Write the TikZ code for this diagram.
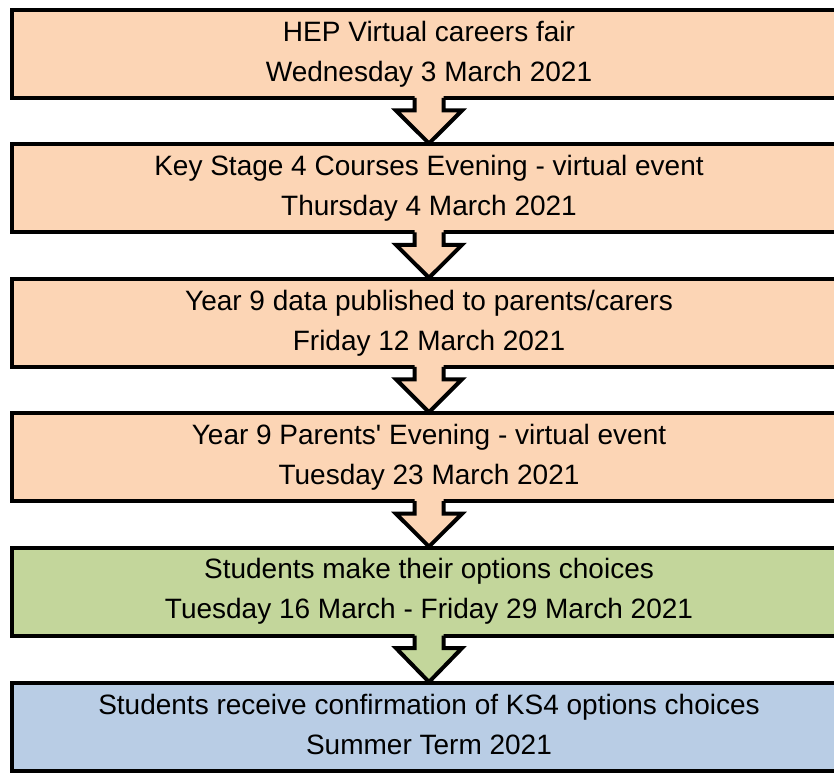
\documentclass[tikz,border=0pt]{standalone}
\usepackage{fontspec}
\setmainfont{Liberation Sans}
\usetikzlibrary{calc}

\definecolor{peach}{HTML}{FCD5B5}
\definecolor{sage}{HTML}{C3D69B}
\definecolor{skyblue}{HTML}{B9CDE5}

\tikzset{
	stage/.style={draw=black, line width=3pt, outer sep=0pt, inner sep=0pt,
		minimum width=625.5pt, minimum height=66pt, align=center,
		font=\fontsize{21}{30}\selectfont,
		execute at begin node=\vphantom{Hy}, execute at end node=\vphantom{Hy}},
	flow/.style={draw=black, line width=3pt, miter limit=10, line join=miter}
}

\begin{document}
\begin{tikzpicture}[x=0.75pt, y=-0.75pt]
		\useasboundingbox (0,0) rectangle (834,773);

		\node[stage, fill=peach] (hep) at (429,54) {HEP Virtual careers fair\\Wednesday 3 March 2021};
		\node[stage, fill=peach] (ksfour) at (429,188.4) {Key Stage 4 Courses Evening - virtual event\\Thursday 4 March 2021};
		\node[stage, fill=peach] (yearnine) at (429,322.8) {Year 9 data published to parents/carers\\Friday 12 March 2021};
		\node[stage, fill=peach] (parents) at (429,457.2) {Year 9 Parents\textquotesingle{} Evening - virtual event\\Tuesday 23 March 2021};
		\node[stage, fill=sage] (choices) at (429,591.6) {Students make their options choices\\Tuesday 16 March - Friday 29 March 2021};
		\node[stage, fill=skyblue] (confirm) at (429,727) {Students receive confirmation of KS4 options choices\\Summer Term 2021};

		% block arrows between the stages
		\foreach \a/\b/\c in {hep/ksfour/peach, ksfour/yearnine/peach, yearnine/parents/peach,
			parents/choices/peach, choices/confirm/sage} {
			\fill[\c] ($(\a.south)+(-14.5,-8)$) -- ($(\a.south)+(-14.5,12.5)$) -- ($(\a.south)+(-33,12.5)$)
				-- ($(\b.north)+(0,-1)$) -- ($(\a.south)+(33,12.5)$) -- ($(\a.south)+(14.5,12.5)$)
				-- ($(\a.south)+(14.5,-8)$) -- cycle;
			\draw[flow] ($(\a.south)+(-14.5,0)$) -- ($(\a.south)+(-14.5,12.5)$) -- ($(\a.south)+(-33,12.5)$)
				-- ($(\b.north)+(0,-1)$) -- ($(\a.south)+(33,12.5)$) -- ($(\a.south)+(14.5,12.5)$)
				-- ($(\a.south)+(14.5,0)$);
		}
\end{tikzpicture}
\end{document}
